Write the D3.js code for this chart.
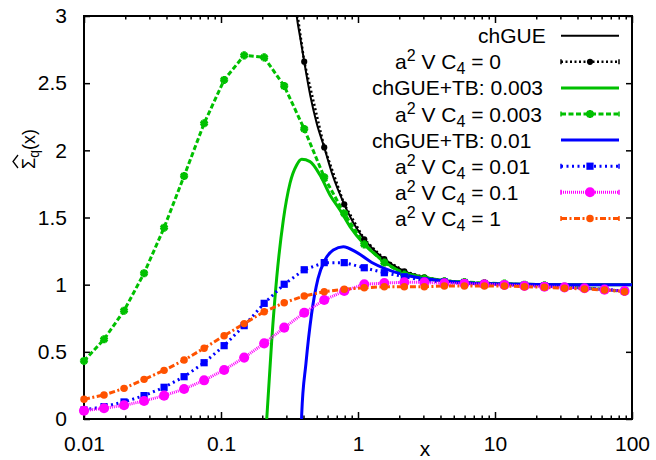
<!DOCTYPE html>
<html><head><meta charset="utf-8">
<script src="https://cdn.jsdelivr.net/npm/d3@7"></script>
<style>
body{margin:0;background:#fff}
svg{display:block}
text{font-family:"Liberation Sans",Arial,Helvetica,sans-serif;fill:#000}
</style>
</head><body>
<svg id="chart" width="656" height="460"></svg>
<script>
// Sample abscissae shared by all lattice data sets
const sampleX = [0.01, 0.014, 0.0196, 0.02744, 0.03842, 0.05378, 0.0753, 0.1054, 0.1476, 0.2066,
  0.2893, 0.405, 0.5669, 0.7937, 1.111, 1.556, 2.178, 3.049, 4.269, 5.976,
  8.367, 11.71, 16.4, 22.96, 32.15, 45.0, 63.0, 88.2];

// Lattice data, one value per sample abscissa (null = not available)
const c4_0 = [null, null, null, null, null, null, null, null, null, null,
  3.7, 2.66, 2.022, 1.598, 1.338, 1.19, 1.10, 1.055, 1.03, 1.02,
  1.01, 1.005, 1.0, 0.995, 0.985, 0.975, 0.965, 0.952];
const c4_0003 = [0.432, 0.593, 0.806, 1.085, 1.424, 1.809, 2.201, 2.524, 2.707, 2.692,
  2.479, 2.159, 1.80, 1.53, 1.30, 1.165, 1.075, 1.045, 1.025, 1.02,
  1.012, 1.008, 1.0, 0.995, 0.985, 0.975, 0.965, 0.95];
const c4_001 = [0.067, 0.092, 0.127, 0.174, 0.236, 0.315, 0.419, 0.546, 0.695, 0.861,
  1.003, 1.111, 1.164, 1.164, 1.126, 1.089, 1.059, 1.03, 1.02, 1.012,
  1.005, 1.0, 0.995, 0.99, 0.982, 0.975, 0.965, 0.952];
const c4_01 = [0.062, 0.08, 0.102, 0.134, 0.174, 0.223, 0.288, 0.365, 0.457, 0.563,
  0.68, 0.791, 0.886, 0.953, 1.003, 1.012, 1.018, 1.017, 1.01, 1.007,
  1.003, 0.998, 0.99, 0.985, 0.98, 0.973, 0.963, 0.953];
const c4_1 = [0.147, 0.179, 0.228, 0.295, 0.362, 0.439, 0.527, 0.62, 0.71, 0.799,
  0.866, 0.916, 0.948, 0.966, 0.977, 0.985, 0.985, 0.985, 0.99, 0.99,
  0.99, 0.99, 0.985, 0.98, 0.973, 0.968, 0.96, 0.948];

// Analytic curves
const chgueX = [0.33, 0.357, 0.38, 0.405, 0.45, 0.5, 0.567, 0.65, 0.794, 0.95,
  1.111, 1.3, 1.556, 2.178, 3.049, 4.27, 6, 10, 20, 50, 100];
const chgueY = [3.35, 3.0, 2.83, 2.66, 2.40, 2.20, 2.022, 1.82, 1.598, 1.44,
  1.338, 1.26, 1.19, 1.10, 1.055, 1.03, 1.016, 1.006, 1.002, 1.0, 1.0];
const tb003X = [0.205, 0.2157, 0.2344, 0.255, 0.2849, 0.3189, 0.3569, 0.3882, 0.4463, 0.5281,
  0.6245, 0.7389, 0.8743, 1.093, 1.447, 2.026, 2.997, 3.968, 6, 10, 20, 50, 100];
const tb003Y = [-0.4, 0, 0.58, 1.05, 1.48, 1.755, 1.891, 1.933, 1.916, 1.816,
  1.668, 1.556, 1.432, 1.308, 1.196, 1.10, 1.055, 1.035, 1.015, 1.006, 1.002, 1.0, 1.0];
const tb01X = [0.38, 0.388, 0.417, 0.458, 0.5105, 0.5743, 0.6602, 0.7809, 0.9783, 1.293,
  1.81, 2.533, 3.354, 6, 10, 20, 50, 100];
const tb01Y = [-0.3, 0.03, 0.414, 0.78, 1.045, 1.184, 1.258, 1.283, 1.24, 1.159,
  1.097, 1.059, 1.04, 1.015, 1.006, 1.002, 1.0, 1.0];

// Axis ticks
const xTickVals = [0.01, 0.1, 1, 10, 100];
const xTickLabels = ["0.01", "0.1", "1", "10", "100"];
const yTickVals = [0, 0.5, 1, 1.5, 2, 2.5, 3];
const yTickLabels = ["0", "0.5", "1", "1.5", "2", "2.5", "3"];

const svg = d3.select("#chart");
const L = 84, R = 632, T = 16, B = 419;
const x = d3.scaleLog().domain([0.01, 100]).range([L, R]);
const y = d3.scaleLinear().domain([0, 3]).range([B, T]);

svg.append("defs").append("clipPath").attr("id", "plotclip")
  .append("rect").attr("x", L).attr("y", T).attr("width", R - L).attr("height", B - T);

const FS = 21;

// Axes (inward ticks, mirrored on top/right)
const minorVals = [];
[0.01, 0.1, 1, 10].forEach(d => { for (let m = 2; m <= 9; m++) minorVals.push(d * m); });

function styleAxis(g) {
  g.select(".domain").remove();
  g.selectAll(".tick line").attr("stroke", "#000").attr("stroke-width", 1.5);
  g.selectAll(".tick text").attr("font-size", FS).attr("fill", "#000")
    .attr("font-family", '"Liberation Sans",Arial,sans-serif');
}

svg.append("g").attr("transform", `translate(0,${B})`)
  .call(d3.axisBottom(x).tickValues(xTickVals).tickSize(-7).tickPadding(17)
    .tickFormat((d, i) => xTickLabels[i]))
  .call(styleAxis);
svg.append("g").attr("transform", `translate(0,${B})`)
  .call(d3.axisBottom(x).tickValues(minorVals).tickSize(-3.5).tickFormat(""))
  .call(styleAxis);
svg.append("g").attr("transform", `translate(0,${T})`)
  .call(d3.axisTop(x).tickValues(xTickVals).tickSize(-7).tickFormat(""))
  .call(styleAxis);
svg.append("g").attr("transform", `translate(0,${T})`)
  .call(d3.axisTop(x).tickValues(minorVals).tickSize(-3.5).tickFormat(""))
  .call(styleAxis);
svg.append("g").attr("transform", `translate(${L},0)`)
  .call(d3.axisLeft(y).tickValues(yTickVals).tickSize(-6).tickPadding(17)
    .tickFormat((d, i) => yTickLabels[i]))
  .call(styleAxis);
svg.append("g").attr("transform", `translate(${R},0)`)
  .call(d3.axisRight(y).tickValues(yTickVals).tickSize(-6).tickFormat(""))
  .call(styleAxis);

svg.append("rect").attr("x", L).attr("y", T).attr("width", R - L).attr("height", B - T)
  .attr("fill", "none").attr("stroke", "#000").attr("stroke-width", 2);

// Axis titles
svg.append("text").attr("x", 425).attr("y", 455.5).attr("text-anchor", "middle")
  .attr("font-size", FS).text("x");

const yl = svg.append("g").attr("transform", "translate(35,149) rotate(-90)");
const ylt = yl.append("text").attr("x", 0).attr("y", 0).attr("text-anchor", "middle").attr("font-size", 18);
ylt.append("tspan").text("Σ");
ylt.append("tspan").attr("font-size", 14).attr("dy", 4).text("q");
ylt.append("tspan").attr("dy", -4).text("(x)");
yl.append("path").attr("d", "M-19,-17 L-12.5,-22 L-6,-17")
  .attr("fill", "none").attr("stroke", "#000").attr("stroke-width", 1.3);

// Styles
const GREEN = "#00c000", BLUE = "#0000ff", MAG = "#ff00ff", ORG = "#ff5200";

const plot = svg.append("g");
const clipped = plot.append("g").attr("clip-path", "url(#plotclip)");
const curveLine = d3.line().x(d => x(d[0])).y(d => y(d[1])).curve(d3.curveMonotoneX);
const dataLine = d3.line().x(d => x(d[0])).y(d => y(d[1]));

function drawCurve(xs, ys, color, width) {
  clipped.append("path").datum(xs.map((v, i) => [v, ys[i]]))
    .attr("d", curveLine).attr("fill", "none").attr("stroke", color).attr("stroke-width", width);
}

function markerPath(kind, size) {
  const sym = { circle: d3.symbolCircle, square: d3.symbolSquare, asterisk: d3.symbolAsterisk }[kind];
  return d3.symbol(sym, size)();
}

function drawMarker(g, px, py, st) {
  const p = g.append("path").attr("d", markerPath(st.marker, st.msize))
    .attr("transform", `translate(${px},${py})`);
  if (st.marker === "asterisk") {
    p.attr("fill", "none").attr("stroke", st.color).attr("stroke-width", 3.2);
  } else {
    p.attr("fill", st.color).attr("stroke", "none");
  }
}

function drawData(vals, st) {
  const pts = sampleX.map((v, i) => [v, vals[i]]).filter(d => d[1] !== null);
  clipped.append("path").datum(pts).attr("d", dataLine).attr("fill", "none")
    .attr("stroke", st.color).attr("stroke-width", st.width).attr("stroke-dasharray", st.dash);
  const mg = plot.append("g");
  pts.filter(d => d[1] <= 3).forEach(d => drawMarker(mg, x(d[0]), y(d[1]), st));
}

const sChgue = { color: "#000", width: 2 };
const sC0 = { color: "#000", width: 2.5, dash: "2,2.5", marker: "circle", msize: 30 };
const sTb003 = { color: GREEN, width: 3 };
const sC0003 = { color: GREEN, width: 3, dash: "5,2.5", marker: "asterisk", msize: 45 };
const sTb01 = { color: BLUE, width: 3 };
const sC001 = { color: BLUE, width: 3, dash: "2,3.5", marker: "square", msize: 52 };
const sC01 = { color: MAG, width: 3, dash: "1,1", marker: "circle", msize: 80 };
const sC1 = { color: ORG, width: 3, dash: "6,2.5,2,2.5", marker: "circle", msize: 44 };

drawCurve(chgueX, chgueY, sChgue.color, sChgue.width);
drawData(c4_0, sC0);
drawCurve(tb003X, tb003Y, sTb003.color, sTb003.width);
drawData(c4_0003, sC0003);
drawCurve(tb01X, tb01Y, sTb01.color, sTb01.width);
drawData(c4_001, sC001);
drawData(c4_01, sC01);
drawData(c4_1, sC1);

// Legend
const legendEntries = [
  { parts: [["chGUE"]], start: 478, st: sChgue, data: false },
  { parts: [["a"], ["2", "sup"], [" V C"], ["4", "sub"], [" = 0"]], start: 395, st: sC0, data: true },
  { parts: [["chGUE+TB: 0.003"]], start: 372, st: sTb003, data: false },
  { parts: [["a"], ["2", "sup"], [" V C"], ["4", "sub"], [" = 0.003"]], start: 395, st: sC0003, data: true },
  { parts: [["chGUE+TB: 0.01"]], start: 372, st: sTb01, data: false },
  { parts: [["a"], ["2", "sup"], [" V C"], ["4", "sub"], [" = 0.01"]], start: 395, st: sC001, data: true },
  { parts: [["a"], ["2", "sup"], [" V C"], ["4", "sub"], [" = 0.1"]], start: 395, st: sC01, data: true },
  { parts: [["a"], ["2", "sup"], [" V C"], ["4", "sub"], [" = 1"]], start: 395, st: sC1, data: true }
];
const lg = svg.append("g");
legendEntries.forEach((e, i) => {
  const cy = 35.7 + i * 26.1;
  const t = lg.append("text").attr("x", e.start).attr("y", cy + 7.5).attr("font-size", FS);
  let shift = 0;
  e.parts.forEach(p => {
    const ts = t.append("tspan").text(p[0]);
    let target = 0;
    if (p[1] === "sup") { ts.attr("font-size", 16); target = -8; }
    else if (p[1] === "sub") { ts.attr("font-size", 16); target = 5; }
    ts.attr("dy", target - shift);
    shift = target;
  });
  const x0 = 561, x1 = 619;
  const ln = lg.append("line").attr("x1", x0).attr("x2", x1).attr("y1", cy).attr("y2", cy)
    .attr("stroke", e.st.color).attr("stroke-width", e.st.width);
  if (e.data) {
    ln.attr("stroke-dasharray", e.st.dash);
    [x0, x1].forEach(xx => lg.append("line").attr("x1", xx).attr("x2", xx)
      .attr("y1", cy - 2.5).attr("y2", cy + 2.5).attr("stroke", e.st.color).attr("stroke-width", 1.5));
    drawMarker(lg, (x0 + x1) / 2, cy, e.st);
  }
});
</script>
</body></html>
